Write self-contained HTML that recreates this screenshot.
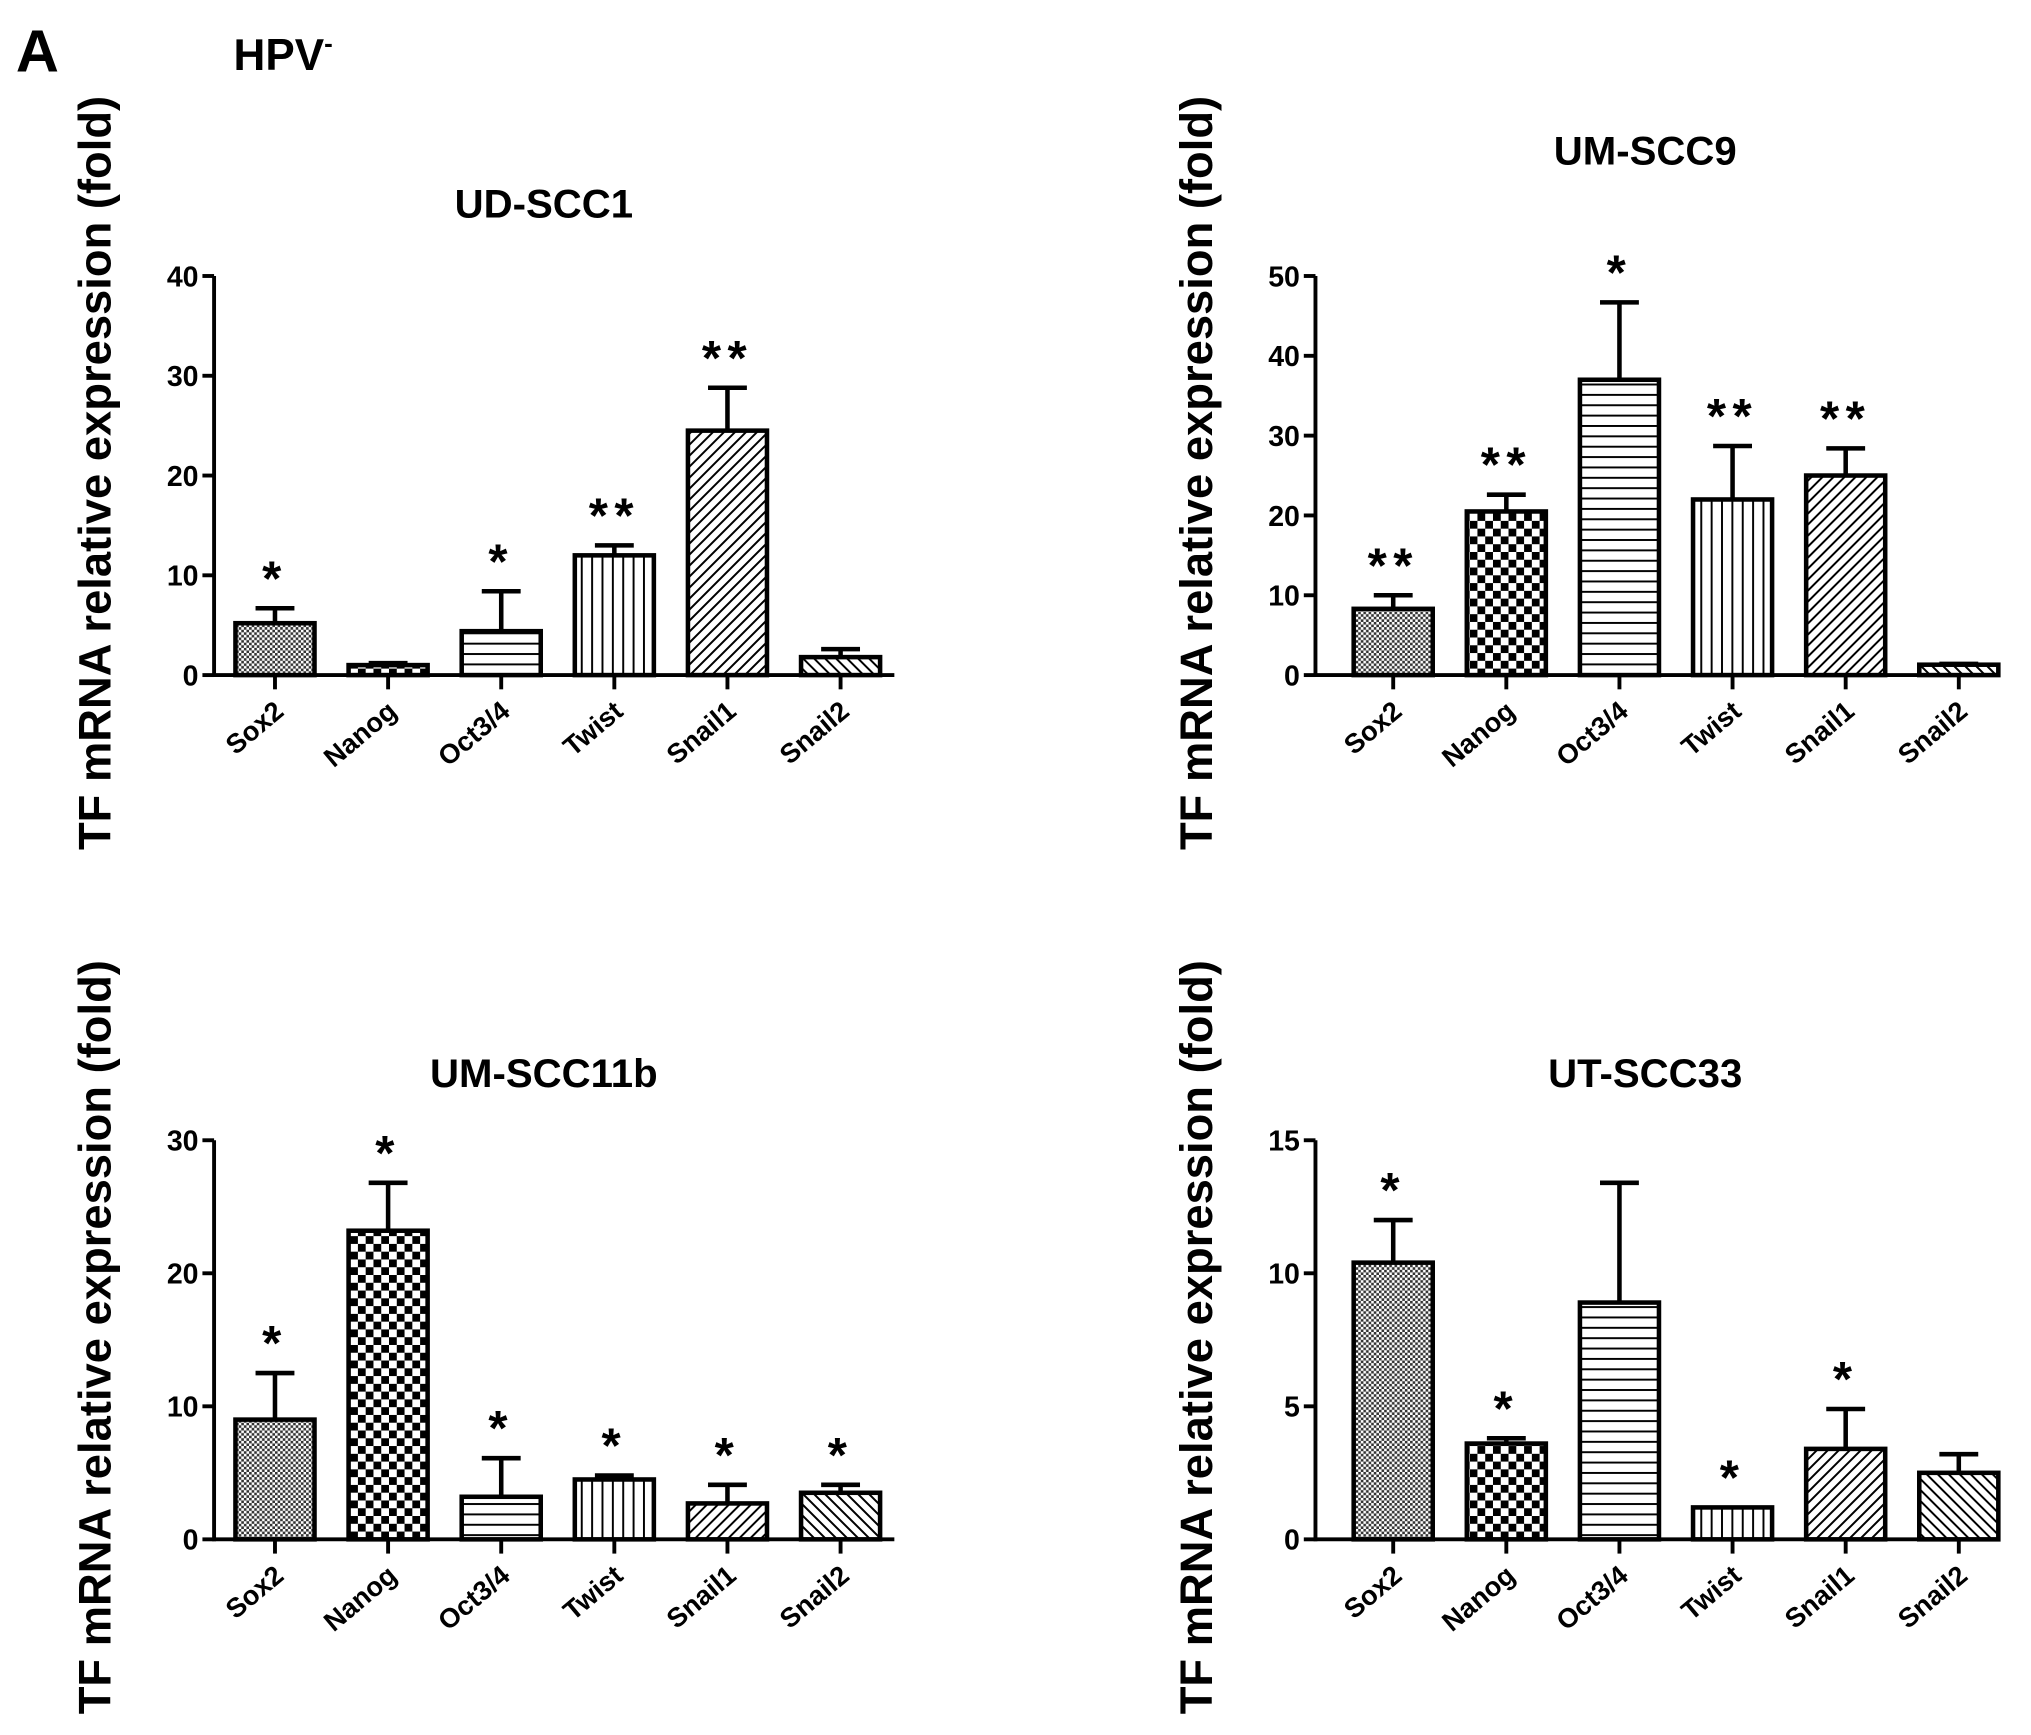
<!DOCTYPE html>
<html><head><meta charset="utf-8"><style>
html,body{margin:0;padding:0;background:#fff}
svg{display:block}
text{font-family:"Liberation Sans",Arial,sans-serif;font-weight:bold;fill:#000}
</style></head><body>
<svg id="fig" xmlns="http://www.w3.org/2000/svg" width="2031" height="1735" viewBox="0 0 1567 1339">
<defs>
<pattern id="p-sox2" width="4" height="4" patternUnits="userSpaceOnUse"><rect width="4" height="4" fill="#fff"/><rect width="2" height="2" fill="#333"/><rect x="2" y="2" width="2" height="2" fill="#333"/></pattern>
<pattern id="p-nanog" width="12" height="12" patternUnits="userSpaceOnUse"><rect width="12" height="12" fill="#fff"/><rect width="6" height="6" fill="#000"/><rect x="6" y="6" width="6" height="6" fill="#000"/></pattern>
<pattern id="p-oct" width="10" height="8" patternUnits="userSpaceOnUse"><rect width="10" height="8" fill="#fff"/><rect y="0" width="10" height="1.5" fill="#000"/></pattern>
<pattern id="p-twist" width="8" height="10" patternUnits="userSpaceOnUse"><rect width="8" height="10" fill="#fff"/><rect x="0" width="1.5" height="10" fill="#000"/></pattern>
<pattern id="p-snail1" width="6" height="6" patternUnits="userSpaceOnUse" patternTransform="rotate(45)"><rect width="6" height="6" fill="#fff"/><rect width="1.5" height="6" fill="#000"/></pattern>
<pattern id="p-snail2" width="6" height="6" patternUnits="userSpaceOnUse" patternTransform="rotate(-45)"><rect width="6" height="6" fill="#fff"/><rect width="1.5" height="6" fill="#000"/></pattern>
</defs>
<text x="12" y="55" font-size="46">A</text>
<text x="180" y="54" font-size="34">HPV<tspan font-size="20" dy="-14">-</tspan></text>
</svg>
<script>
const categories = ["Sox2","Nanog","Oct3/4","Twist","Snail1","Snail2"];
const udValues = [5.2, 1.0, 4.4, 12.0, 24.5, 1.8];
const udErrors = [6.7, 1.2, 8.4, 13.0, 28.8, 2.6];
const udStars = ["*","","*","**","**",""];
const udTicks = [0,10,20,30,40];
const um9Values = [8.3, 20.5, 37.0, 22.0, 25.0, 1.3];
const um9Errors = [10.0, 22.6, 46.7, 28.7, 28.4, 1.4];
const um9Stars = ["**","**","*","**","**",""];
const um9Ticks = [0,10,20,30,40,50];
const um11Values = [9.0, 23.2, 3.2, 4.5, 2.7, 3.5];
const um11Errors = [12.5, 26.8, 6.1, 4.8, 4.1, 4.1];
const um11Stars = ["*","*","*","*","*","*"];
const um11Ticks = [0,10,20,30];
const ut33Values = [10.4, 3.6, 8.9, 1.2, 3.4, 2.5];
const ut33Errors = [12.0, 3.8, 13.4, 1.2, 4.9, 3.2];
const ut33Stars = ["*","*","","*","*",""];
const ut33Ticks = [0,5,10,15];
const titles = ["UD-SCC1","UM-SCC9","UM-SCC11b","UT-SCC33"];
const pats = ["p-sox2","p-nanog","p-oct","p-twist","p-snail1","p-snail2"];
const NS="http://www.w3.org/2000/svg";
const svg=document.getElementById('fig');
function mk(tag,attrs,parent){const e=document.createElementNS(NS,tag);for(const k in attrs)e.setAttribute(k,attrs[k]);(parent||svg).appendChild(e);return e;}
function chart(ox,oy,title,vals,errs,stars,ticks,slug,titleY){
  const g=mk('g',{});
  
  
  const y0=oy+308, yTop=oy, ax=ox, xEnd=ox+525;
  const maxV=ticks[ticks.length-1];
  const Y=v=>y0-(v/maxV)*(y0-yTop);
  const step=87.3, first=ox+47+ (slug==='ud'||slug==='um11'? 0:13);
  const X=i=>first+i*step;
  const yt=mk('text',{x:0,y:0,'font-size':35,'text-anchor':'middle',transform:`translate(${ox-80},${oy+152}) rotate(-90)`},g);
  yt.textContent="TF mRNA relative expression (fold)";
  
  
  const t=mk('text',{x:(ax+xEnd)/2-8,y:titleY,'font-size':31,'text-anchor':'middle'},g);
  t.textContent=title;
  
  
  const ya=mk('line',{x1:ax,y1:yTop,x2:ax,y2:y0+1.5,stroke:'#000','stroke-width':3},g);
  
  
  const xa=mk('line',{x1:ax,y1:y0,x2:xEnd,y2:y0,stroke:'#000','stroke-width':3},g);
  
  
  ticks.forEach(v=>{
    mk('line',{x1:ax-9,y1:Y(v),x2:ax,y2:Y(v),stroke:'#000','stroke-width':3},g);
    const tl=mk('text',{x:ax-12,y:Y(v)+8,'font-size':22,'text-anchor':'end'},g);
    tl.textContent=v;
    
    
  });
  categories.forEach((c,i)=>{
    const cx=X(i), w=61;
    mk('line',{x1:cx,y1:y0,x2:cx,y2:y0+11,stroke:'#000','stroke-width':3},g);
    const e=errs[i];
    if(e>vals[i]){
      mk('line',{x1:cx,y1:Y(vals[i]),x2:cx,y2:Y(e),stroke:'#000','stroke-width':3.5},g);
      mk('line',{x1:cx-15,y1:Y(e),x2:cx+15,y2:Y(e),stroke:'#000','stroke-width':3.5},g);
    }
    const b=mk('rect',{x:cx-w/2,y:Y(vals[i]),width:w,height:y0-Y(vals[i]),fill:`url(#${pats[i]})`,stroke:'#000','stroke-width':3.5},g);
    
    
    if(stars[i]){
      const s=mk('text',{x:cx,y:Y(Math.max(e,vals[i]))-10,'font-size':38,'text-anchor':'middle','font-weight':'normal','letter-spacing':'5'},g);
      s.textContent=stars[i];
      
      
    }
    const l=mk('text',{x:0,y:0,'font-size':21,'text-anchor':'end',transform:`translate(${cx+8},${y0+30}) rotate(-40)`},g);
    l.textContent=c;
    
    
  });
}
chart(165,213,titles[0],udValues,udErrors,udStars,udTicks,'ud',168);
chart(1015,213,titles[1],um9Values,um9Errors,um9Stars,um9Ticks,'um9',127);
chart(165,880,titles[2],um11Values,um11Errors,um11Stars,um11Ticks,'um11',839);
chart(1015,880,titles[3],ut33Values,ut33Errors,ut33Stars,ut33Ticks,'ut33',839);
</script>
</body></html>
